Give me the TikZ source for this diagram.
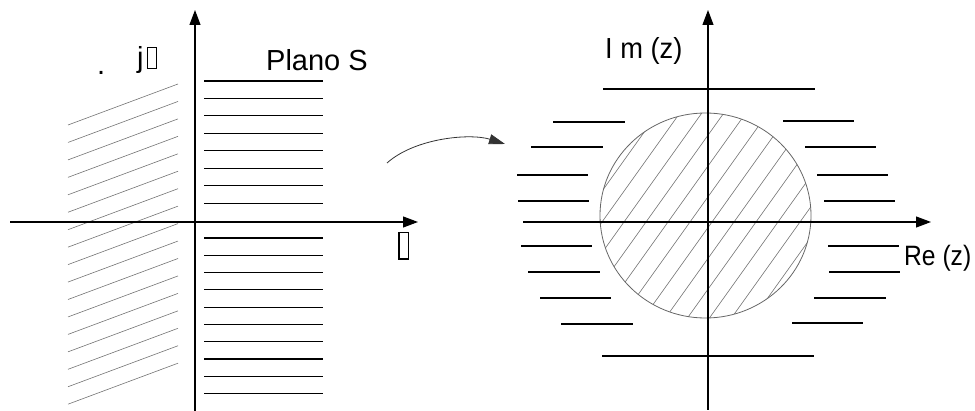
\documentclass[tikz,border=0pt]{standalone}
\usepackage{fontspec}
\setmainfont{Liberation Sans}
\usetikzlibrary{arrows.meta}
\newcommand{\tofubox}[3]{{\setlength{\fboxsep}{0pt}\setlength{\fboxrule}{#3}\fbox{\rule{0pt}{#2}\hspace{#1}}}}
\begin{document}
\begin{tikzpicture}[x=1pt,y=-1pt,
  axis/.style={line width=1.1pt, -{Triangle[length=15pt,width=11pt]}},
  hatch/.style={line width=1.2pt},
  diag/.style={line width=0.6pt, black!55},
  rim/.style={line width=0.8pt, black!60},
  lbl/.style={inner sep=0pt, font=\fontsize{29}{29}\selectfont}]
\useasboundingbox (0,0) rectangle (975,411);

% ---------- left plane ----------
\foreach \k in {0,...,16}
  \draw[diag] (68,{125+17.45*\k}) -- (178,{84+17.45*\k});
\foreach \k in {0,...,7}
  \draw[hatch] (204,{81+17.45*\k}) -- (323,{81+17.45*\k});
\foreach \k in {0,...,9}
  \draw[hatch] (204,{238+17.3*\k}) -- (323,{238+17.3*\k});

\coordinate (Lb) at (195,411);
\coordinate (Lt) at (195,10);
\coordinate (Ll) at (10,222);
\coordinate (Lr) at (418,222);
\draw[axis] (Lb) -- (Lt);
\draw[axis] (Ll) -- (Lr);

\node[lbl, anchor=base west] (dot) at (97,75) {.};
\node[lbl, anchor=base west] (jw) at (137,68) {j\hspace{3.5pt}\tofubox{8pt}{20pt}{1pt}};
\node[lbl, anchor=base west] (plano) at (266,71) {Plano S};
\node[inner sep=0pt, anchor=south west] (sigma) at (398,260) {\tofubox{7.6pt}{24.6pt}{1.7pt}};

% ---------- mapping arrow ----------
\coordinate (cs) at (387,163);
\coordinate (ce) at (505,144);
\draw[line width=0.8pt, black!80, -{Triangle[length=16pt,width=10pt]}]
  (cs) .. controls (415,138) and (470,133) .. (ce);

% ---------- right plane ----------
\begin{scope}
  \clip (705.5,215.5) ellipse [x radius=105.5, y radius=102.5];
  \foreach \k in {-9,...,7}
    \draw[diag] ({695+22*\k+82.14},100) -- ({695+22*\k-82.14},330);
\end{scope}
\draw[rim] (705.5,215.5) ellipse [x radius=105.5, y radius=102.5];

\draw[hatch] (603,89) -- (815,89);
\draw[hatch] (553,122) -- (625,122);  \draw[hatch] (783,121) -- (854,121);
\draw[hatch] (531,147) -- (603,147);  \draw[hatch] (805,147) -- (876,147);
\draw[hatch] (517,175) -- (588,175);  \draw[hatch] (817,175) -- (888,175);
\draw[hatch] (518,201) -- (589,201);  \draw[hatch] (824,201) -- (895,201);
\draw[hatch] (521,246) -- (592,246);  \draw[hatch] (828,246) -- (899,246);
\draw[hatch] (528,272) -- (600,272);  \draw[hatch] (829,272) -- (900,272);
\draw[hatch] (540,298) -- (611,298);  \draw[hatch] (814,298) -- (886,298);
\draw[hatch] (561,324) -- (633,324);  \draw[hatch] (792,323) -- (863,323);
\draw[hatch] (602,356) -- (814,356);

\coordinate (Rb) at (708,410);
\coordinate (Rt) at (708,10);
\coordinate (Rl) at (523,222);
\coordinate (Rr) at (931,222);
\draw[axis] (Rb) -- (Rt);
\draw[axis] (Rl) -- (Rr);

\node[lbl, anchor=base west] (imz) at (605,59) {\scalebox{0.94}[1]{I m (z)}};
\node[lbl, anchor=base west, font=\fontsize{28}{28}\selectfont] (rez) at (904,266) {\scalebox{0.88}[1]{Re (z)}};
\end{tikzpicture}
\end{document}
